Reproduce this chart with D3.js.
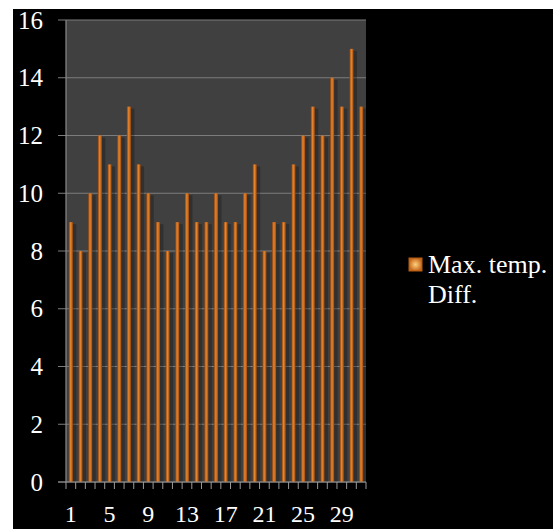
<!DOCTYPE html>
<html>
<head>
<meta charset="utf-8">
<script src="https://cdn.jsdelivr.net/npm/d3@7"></script>
<style>
  html, body { margin: 0; padding: 0; background: #fff; }
  svg { display: block; }
  .tick-label { font-family: "Liberation Serif", "Times New Roman", serif; fill: #fff; }
</style>
</head>
<body>
<div id="chart"></div>
<script>
// days of the month, one bar each
var days = d3.range(1, 32);
var maxTempDiff = [9, 8, 10, 12, 11, 12, 13, 11, 10, 9, 8, 9, 10, 9, 9, 10,
                   9, 9, 10, 11, 8, 9, 9, 11, 12, 13, 12, 14, 13, 15, 13];
var yTicks = [0, 2, 4, 6, 8, 10, 12, 14, 16];
var xLabels = [1, 5, 9, 13, 17, 21, 25, 29];
var seriesName = ['Max. temp.', 'Diff.'];

var width = 553, height = 529;
var plot = { left: 66, top: 20, right: 366, bottom: 482 };

var svg = d3.select('#chart').append('svg')
    .attr('width', width)
    .attr('height', height);

var defs = svg.append('defs');

// cylinder-ish look on the bars
var barGrad = defs.append('linearGradient')
    .attr('id', 'barGrad')
    .attr('x1', '0%').attr('x2', '100%').attr('y1', '0%').attr('y2', '0%');
barGrad.append('stop').attr('offset', '0%').attr('stop-color', '#8a4210');
barGrad.append('stop').attr('offset', '45%').attr('stop-color', '#e8862c');
barGrad.append('stop').attr('offset', '100%').attr('stop-color', '#9a4a12');

var swGrad = defs.append('radialGradient').attr('id', 'swGrad');
swGrad.append('stop').attr('offset', '0%').attr('stop-color', '#ffd080');
swGrad.append('stop').attr('offset', '100%').attr('stop-color', '#c86a1c');

// black chart background, offset like the original screenshot
svg.append('rect')
    .attr('x', 13).attr('y', 9)
    .attr('width', width).attr('height', height)
    .attr('fill', '#000');

var x = d3.scaleBand()
    .domain(days)
    .range([plot.left, plot.right]);

var y = d3.scaleLinear()
    .domain([0, 16])
    .range([plot.bottom, plot.top]);

svg.append('rect')
    .attr('x', plot.left).attr('y', plot.top)
    .attr('width', plot.right - plot.left)
    .attr('height', plot.bottom - plot.top)
    .attr('fill', '#404040');

// gridlines, running a little past the left edge as ticks
svg.selectAll('.grid')
    .data(yTicks)
    .enter().append('line')
    .attr('class', 'grid')
    .attr('x1', plot.left - 8).attr('x2', plot.right)
    .attr('y1', d => y(d)).attr('y2', d => y(d))
    .attr('stroke', '#7c7c7c')
    .attr('stroke-width', 1.2);

svg.append('line')
    .attr('x1', plot.left).attr('x2', plot.left)
    .attr('y1', plot.top).attr('y2', plot.bottom)
    .attr('stroke', '#8a8a8a')
    .attr('stroke-width', 1.2);

svg.selectAll('.ylab')
    .data(yTicks)
    .enter().append('text')
    .attr('class', 'tick-label ylab')
    .attr('x', 43)
    .attr('y', d => y(d))
    .attr('dy', '0.34em')
    .attr('text-anchor', 'end')
    .style('font-size', '25px')
    .text(d => d);

var barW = 4;

// soft shadow to the right of each bar
svg.selectAll('.shadow')
    .data(maxTempDiff)
    .enter().append('rect')
    .attr('class', 'shadow')
    .attr('x', (d, i) => x(days[i]) + x.bandwidth() / 2 - barW / 2 + 2)
    .attr('y', d => y(d) + 2)
    .attr('width', barW + 1.5)
    .attr('height', d => plot.bottom - y(d) - 2)
    .attr('fill', '#000')
    .attr('opacity', 0.25);

svg.selectAll('.bar')
    .data(maxTempDiff)
    .enter().append('rect')
    .attr('class', 'bar')
    .attr('x', (d, i) => x(days[i]) + x.bandwidth() / 2 - barW / 2)
    .attr('y', d => y(d))
    .attr('width', barW)
    .attr('height', d => plot.bottom - y(d))
    .attr('fill', 'url(#barGrad)');

// bottom axis line and ticks at band edges
svg.append('line')
    .attr('x1', plot.left - 8).attr('x2', plot.right)
    .attr('y1', plot.bottom).attr('y2', plot.bottom)
    .attr('stroke', '#8a8a8a')
    .attr('stroke-width', 1.2);

var edges = days.map(d => x(d)).concat([plot.right]);
svg.selectAll('.xtick')
    .data(edges)
    .enter().append('line')
    .attr('class', 'xtick')
    .attr('x1', d => d).attr('x2', d => d)
    .attr('y1', plot.bottom).attr('y2', plot.bottom + 7)
    .attr('stroke', '#9a9a9a')
    .attr('stroke-width', 1);

// reference crops these at the bottom edge; keep them just inside
svg.selectAll('.xlab')
    .data(xLabels)
    .enter().append('text')
    .attr('class', 'tick-label xlab')
    .attr('x', d => x(d) + x.bandwidth() / 2)
    .attr('y', 522)
    .attr('text-anchor', 'middle')
    .style('font-size', '24px')
    .text(d => d);

// legend
var legend = svg.append('g').attr('transform', 'translate(409,258)');
legend.append('rect')
    .attr('width', 13).attr('height', 13)
    .attr('fill', 'url(#swGrad)')
    .attr('stroke', '#b05a14')
    .attr('stroke-width', 1);
legend.selectAll('text')
    .data(seriesName)
    .enter().append('text')
    .attr('class', 'tick-label')
    .attr('x', 19)
    .attr('y', (d, i) => 15 + i * 30)
    .style('font-size', '26px')
    .text(d => d);
</script>
</body>
</html>
